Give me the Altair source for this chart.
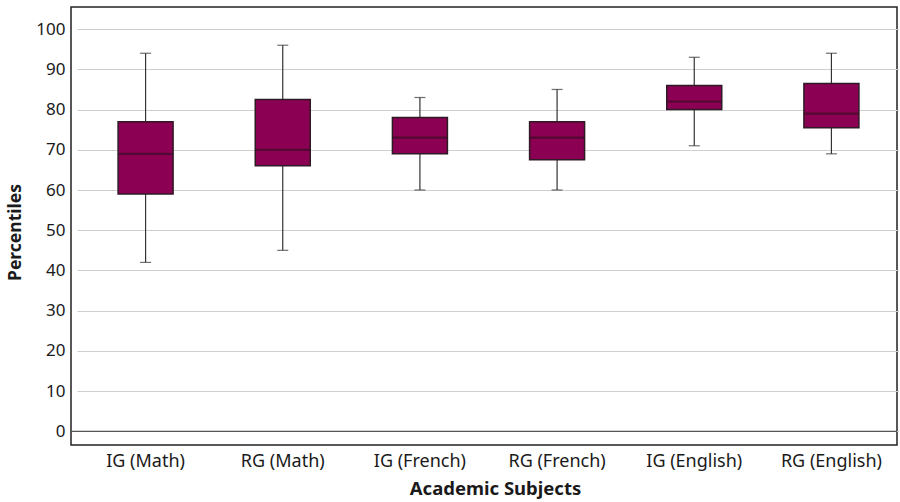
import altair as alt
import pandas as pd

# Five-number summaries per group (percentiles)
groups = ["IG (Math)", "RG (Math)", "IG (French)", "RG (French)", "IG (English)", "RG (English)"]
lower = [42, 45, 60, 60, 71, 69]
q1 = [59, 66, 69, 67.5, 80, 75.5]
median = [69, 70, 73, 73, 82, 79]
q3 = [77, 82.5, 78, 77, 86, 86.5]
upper = [94, 96, 83, 85, 93, 94]

df = pd.DataFrame({
    "group": groups, "lower": lower, "q1": q1,
    "median": median, "q3": q3, "upper": upper,
})

FONT = "Noto Sans"
FILL = "#8b0052"
EDGE = "#2e1a24"
TEXT = "#1a1a1a"

x_enc = alt.X(
    "group:N", sort=groups, title="Academic Subjects",
    scale=alt.Scale(paddingInner=0, paddingOuter=0, range=[6, 829]),
    axis=alt.Axis(labelAngle=0, ticks=False, domain=False, labelFontSize=18,
                  labelBaseline="alphabetic", labelPadding=21,
                  titleFontSize=18.5, titleFontWeight="bold",
                  titleBaseline="alphabetic", titleX=424, titleY=49,
                  titleAlign="center",
                  labelColor=TEXT, titleColor=TEXT),
)
y_scale = alt.Scale(domain=[-3.4, 105.5], nice=False, zero=False)
y_axis = alt.Axis(values=list(range(0, 101, 10)), ticks=False, domain=False,
                  grid=True, gridColor="#cfcfcf", gridWidth=1.2,
                  labelFontSize=17, labelPadding=6, labelColor=TEXT,
                  title="Percentiles", titleFontSize=17.5, titleFontWeight="bold",
                  titleColor=TEXT, titleBaseline="middle", titleAlign="center",
                  titleAngle=270, titleX=-56, titleY=225)

base = alt.Chart(df)

whisker = base.mark_rule(color="#333333", strokeWidth=1.2).encode(
    x=x_enc,
    y=alt.Y("lower:Q", scale=y_scale, axis=y_axis),
    y2="upper:Q",
)
caps_hi = base.mark_tick(color="#333333", size=11, thickness=1.2, orient="horizontal").encode(
    x=alt.X("group:N", sort=groups), y=alt.Y("upper:Q"))
caps_lo = base.mark_tick(color="#333333", size=11, thickness=1.2, orient="horizontal").encode(
    x=alt.X("group:N", sort=groups), y=alt.Y("lower:Q"))
box = base.mark_bar(size=55, fill=FILL, stroke=EDGE, strokeWidth=1.5).encode(
    x=alt.X("group:N", sort=groups), y="q1:Q", y2="q3:Q")
med = base.mark_tick(color="#3a0d26", size=55, thickness=2.2, orient="horizontal").encode(
    x=alt.X("group:N", sort=groups), y="median:Q")

zero_line = alt.Chart(pd.DataFrame({"v": [0]})).mark_rule(color="#555555", strokeWidth=1.2).encode(
    y=alt.Y("v:Q"))

chart = alt.layer(zero_line, whisker, caps_hi, caps_lo, box, med).resolve_scale(
    y="shared").properties(
    width=826, height=438,
    autosize=alt.AutoSizeParams(type="none"),
    padding={"left": 71, "top": 7, "right": 2, "bottom": 57},
).configure(font=FONT).configure_view(
    stroke="#222222", strokeWidth=1.5
)

chart.save("out.html", embed_options={"renderer": "svg", "actions": False})
